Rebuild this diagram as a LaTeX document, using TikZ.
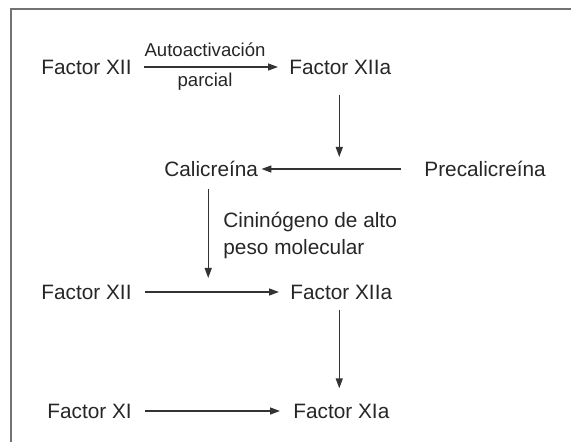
\documentclass[tikz,border=0pt]{standalone}
\usepackage{fontspec}
\setmainfont{Liberation Sans}
\usetikzlibrary{arrows.meta}
\begin{document}
\begin{tikzpicture}[x=0.5pt,y=-0.5pt,
  lbl/.style={inner sep=0pt, text=black!85, font=\fontsize{10.4}{13.5}\selectfont},
  sml/.style={inner sep=0pt, text=black!85, font=\fontsize{9.3}{11}\selectfont},
  arr/.style={draw=black!80, line width=0.7pt, -{Triangle[length=5pt,width=3.5pt]}},
  frame/.style={draw=black!55, line width=1pt}]
\useasboundingbox (0,0) rectangle (571,442);
\draw[frame] (11,442) coordinate (fb) -- (11,9) coordinate (fc) -- (571,9) coordinate (fr);
% row 1
\node[lbl, anchor=west] (a1) at (41,67) {Factor XII};
\node[lbl, anchor=west] (a2) at (289,67) {Factor XIIa};
\node[sml] (t1) at (205,50) {Autoactivación};
\node[sml] (t2) at (205,82) {parcial};
\draw[arr] ([xshift=6pt]a1.east) -- ([xshift=-5.5pt]a2.west);
% row 2
\node[lbl, anchor=west] (b1) at (164,169) {Calicreína};
\node[lbl, anchor=west] (b2) at (424,169) {Precalicreína};
\draw[arr] ([xshift=-11.5pt]b2.west) -- ([xshift=1.5pt]b1.east);
\draw[arr] ([xshift=-0.5pt,yshift=-10pt]a2.south) -- ([xshift=-0.5pt,yshift=6pt]a2.south |- b1.center);
% label
\node[lbl, anchor=north west, align=left] (t3) at (223,212) {Cininógeno de alto\\peso molecular};
% row 3
\node[lbl, anchor=west] (c1) at (41,292) {Factor XII};
\node[lbl, anchor=west] (c2) at (290,292) {Factor XIIa};
\draw[arr] ([xshift=6.5pt]c1.east) -- ([xshift=-5.5pt]c2.west);
\draw[arr] ([xshift=-1.5pt,yshift=-6pt]b1.south) -- ([xshift=-1.5pt,yshift=7pt]b1.south |- c1.center);
% row 4
\node[lbl, anchor=west] (d1) at (47,411) {Factor XI};
\node[lbl, anchor=west] (d2) at (293,411) {Factor XIa};
\draw[arr] ([xshift=6.5pt]d1.east) -- ([xshift=-6.5pt]d2.west);
\draw[arr] ([xshift=-1pt,yshift=-5pt]c2.south) -- ([xshift=-1pt,yshift=7.5pt]c2.south |- d2.north);
\end{tikzpicture}
\end{document}
